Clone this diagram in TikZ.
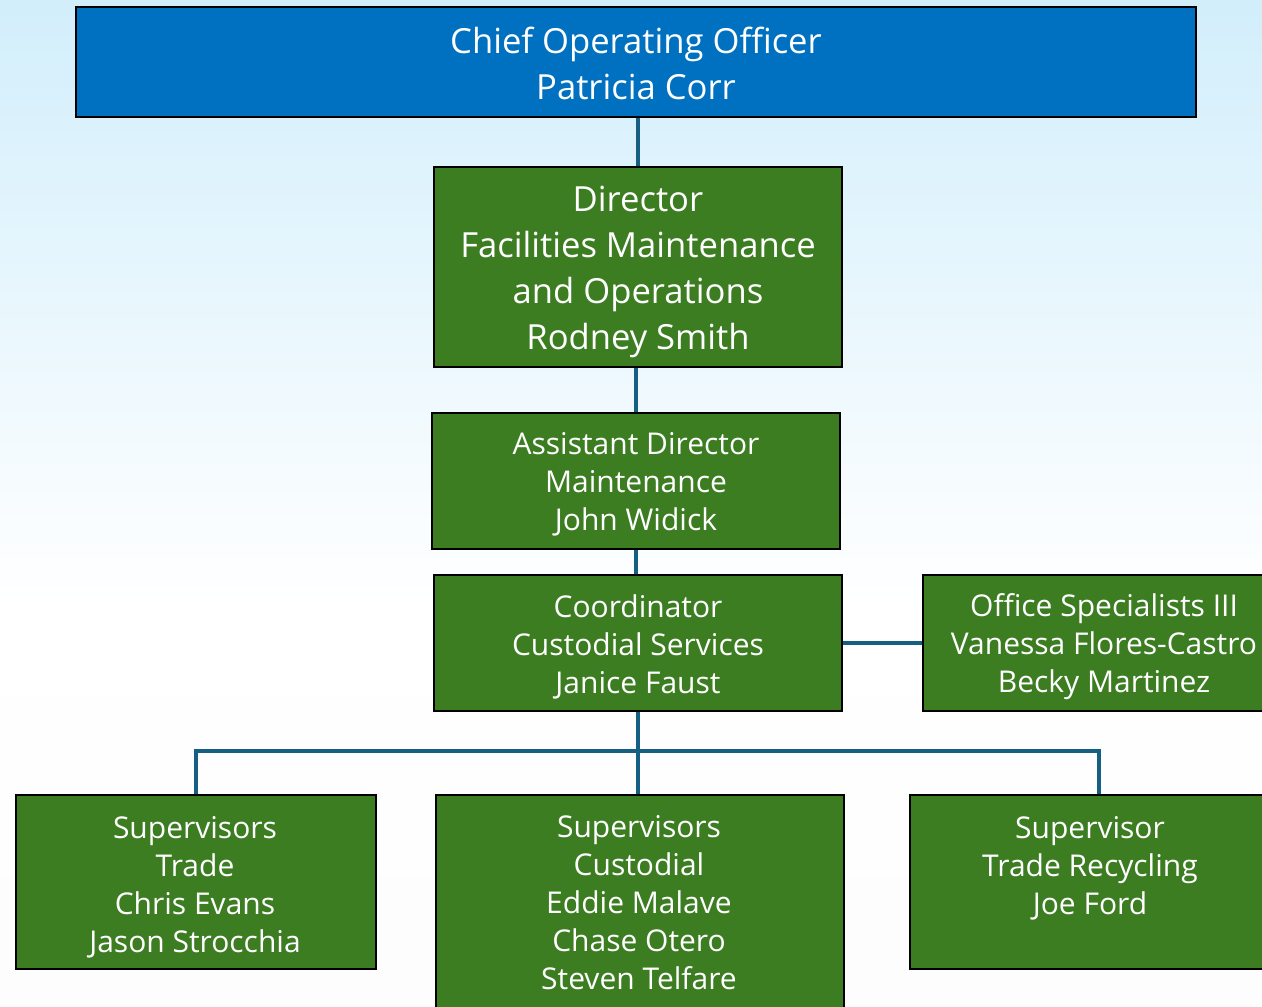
\documentclass[tikz,border=0pt]{standalone}
\usepackage{fontspec}
\setmainfont{Open Sans}
\definecolor{bgtop}{RGB}{172,224,248}
\definecolor{bgmid}{RGB}{255,255,255}
\definecolor{bgbot}{RGB}{250,250,250}
\definecolor{cooblue}{RGB}{0,112,192}
\definecolor{boxgreen}{RGB}{60,125,34}
\definecolor{linkblue}{RGB}{21,96,130}
\pgfdeclareverticalshading{bgshade}{100bp}{color(0bp)=(bgbot); color(45bp)=(bgmid); color(100bp)=(bgtop)}
\tikzset{
  box/.style={draw=black, line width=2pt, fill=boxgreen, inner sep=0pt},
  txtbig/.style={text=white, align=center, inner sep=0pt, font=\fontsize{34.6}{46}\selectfont},
  txtsmall/.style={text=white, align=center, inner sep=0pt, font=\fontsize{30}{38}\selectfont},
  link/.style={draw=linkblue, line width=3.5pt}
}
\begin{document}
\begin{tikzpicture}[x=1pt,y=-1pt]
\useasboundingbox (0,0) rectangle (1262,1007);
\clip (0,0) rectangle (1262,1007);
\shade[shading=bgshade] (0,0) rectangle (1262,1007);

% boxes
\node[box, fill=cooblue, minimum width=1120pt, minimum height=110pt] (coo) at (636,62) {};
\node[box, minimum width=408pt, minimum height=200pt] (dir) at (638,267) {};
\node[box, minimum width=408pt, minimum height=136pt] (asst) at (636,481) {};
\node[box, minimum width=408pt, minimum height=136pt] (coord) at (638,643) {};
\node[box, minimum width=362pt, minimum height=136pt] (office) at (1104,643) {};
\node[box, minimum width=360pt, minimum height=174pt] (trade) at (196,882) {};
\node[box, minimum width=408pt, minimum height=230pt] (cust) at (640,910) {};
\node[box, minimum width=360pt, minimum height=174pt] (recyc) at (1090,882) {};

% connectors
\coordinate (bar) at (638,751);
\coordinate (rc) at ([xshift=9pt]recyc.north);
\draw[link] (dir.north) -- (dir.north |- coo.south);
\draw[link] (asst.north) -- (asst.north |- dir.south);
\draw[link] (asst.south) -- (asst.south |- coord.north);
\draw[link] (coord.east) -- (coord.east -| office.west);
\draw[link] (coord.south) -- (coord.south |- cust.north);
\draw[link] (trade.north) |- (bar) -| (rc);

% texts
\node[txtbig] (tcoo) at (636,63) {Chief Operating Officer\\Patricia Corr};
\node[txtbig] (tdir) at (638,272) {Director\\Facilities Maintenance\\and Operations\\Rodney Smith};
\node[txtsmall] (tasst) at (636,484) {Assistant Director\\Maintenance\\John Widick};
\node[txtsmall] (tcoord) at (638,647) {Coordinator\\Custodial Services\\Janice Faust};
\node[txtsmall] (toffice) at (1104,647) {Office Specialists III\\Vanessa Flores-Castro\\Becky Martinez};
\node[txtsmall] (ttrade) at (195,887) {Supervisors\\Trade\\Chris Evans\\Jason Strocchia};
\node[txtsmall] (tcust) at (639,903) {Supervisors\\Custodial\\Eddie Malave\\Chase Otero\\Steven Telfare};
\node[txtsmall] (trecyc) at (1090,868) {Supervisor\\Trade Recycling\\Joe Ford};
\end{tikzpicture}
\end{document}
